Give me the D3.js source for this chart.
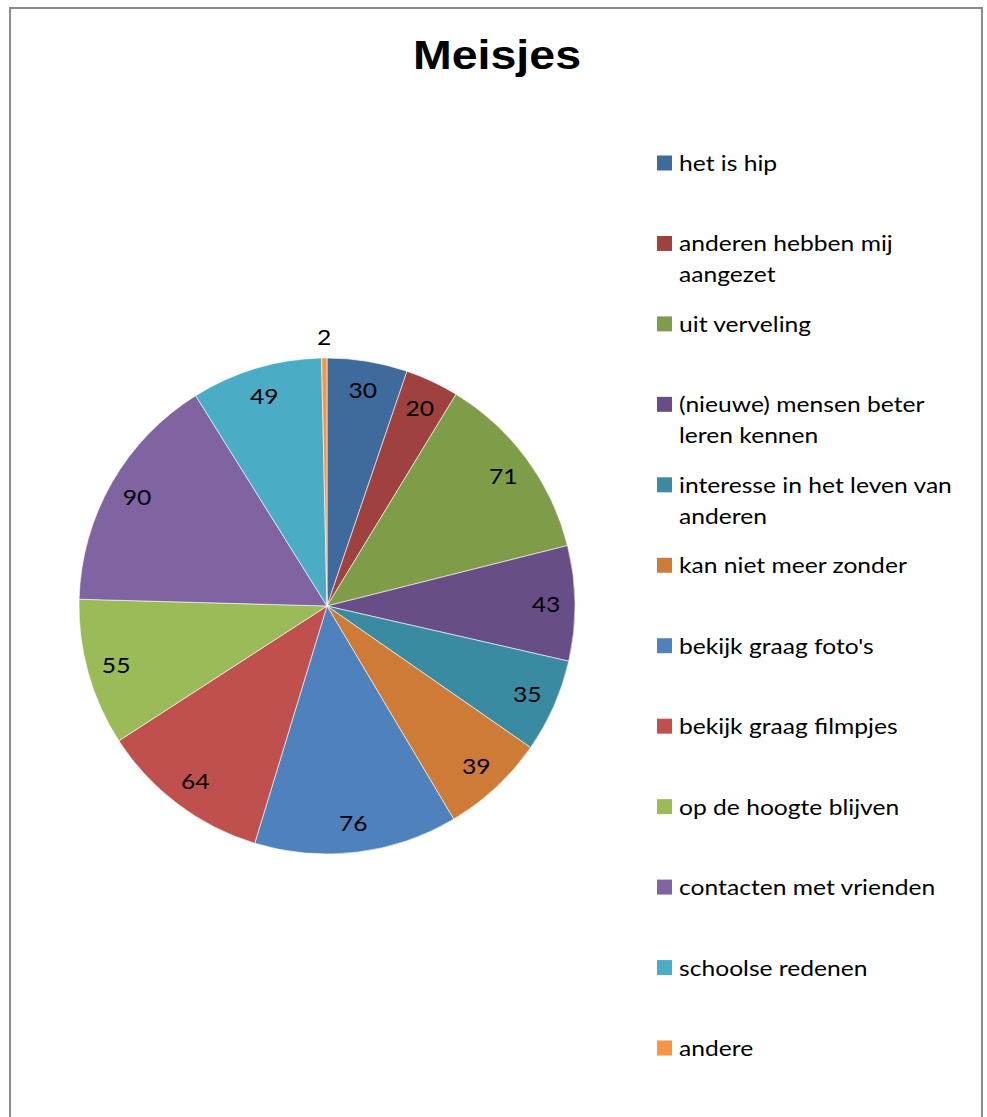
<!DOCTYPE html>
<html>
<head>
<meta charset="utf-8">
<script src="https://cdn.jsdelivr.net/npm/d3@7"></script>
<style>
  body { margin: 0; background: #fff; }
  svg text { font-family: Lato, "Noto Sans", sans-serif; }
</style>
</head>
<body>
<div id="chart"></div>
<script>
// redenen (meisjes)
var categories = ["het is hip", "anderen hebben mij aangezet", "uit verveling",
  "(nieuwe) mensen beter leren kennen", "interesse in het leven van anderen",
  "kan niet meer zonder", "bekijk graag foto's", "bekijk graag filmpjes",
  "op de hoogte blijven", "contacten met vrienden", "schoolse redenen", "andere"];
var values = [30, 20, 71, 43, 35, 39, 76, 64, 55, 90, 49, 2];
var colors = ["#3F6A9C", "#9F413E", "#7F9D48", "#684E87", "#3A8BA2", "#CD7B37",
  "#4F81BD", "#C0504D", "#9BBB59", "#8064A2", "#4BACC6", "#F79646"];
var title = "Meisjes";

var W = 987, H = 1117;
var svg = d3.select("#chart").append("svg").attr("width", W).attr("height", H);

// kader
svg.append("rect")
  .attr("x", 10).attr("y", 8).attr("width", 972).attr("height", H + 20)
  .attr("fill", "#fff").attr("stroke", "#8c8c8c").attr("stroke-width", 2);

// titel
var t = svg.append("text")
  .attr("x", 497).attr("y", 69)
  .attr("text-anchor", "middle")
  .style("font-family", "'Liberation Sans', Arial, sans-serif")
  .style("font-weight", "bold")
  .style("font-size", "40px")
  .text(title);
t.attr("textLength", 168).attr("lengthAdjust", "spacingAndGlyphs");

// taart
var cx = 327, cy = 606, R = 248;
var data = categories.map(function (c, i) { return { cat: c, value: values[i], i: i }; });
var total = d3.sum(values);
var pie = d3.pie().value(function (d) { return d.value; }).sort(null);
var arc = d3.arc().innerRadius(0).outerRadius(R);
var arcs = pie(data);

var g = svg.append("g").attr("transform", "translate(" + cx + "," + cy + ")");
g.selectAll("path")
  .data(arcs)
  .enter().append("path")
  .attr("d", arc)
  .attr("fill", function (d) { return colors[d.data.i]; })
  .attr("stroke", "#fff")
  .attr("stroke-width", 0.6);

var sx = 1.12;

// labels: binnenkant, kleine stukjes buiten
g.selectAll("text.lbl")
  .data(arcs)
  .enter().append("text")
  .attr("class", "lbl")
  .attr("transform", function (d) {
    var small = d.data.value / total < 0.02;
    var r = small ? R + 21 : 219;
    var a = (d.startAngle + d.endAngle) / 2;
    return "translate(" + (Math.sin(a) * r) + "," + (-Math.cos(a) * r) + ") scale(" + sx + ",1)";
  })
  .attr("text-anchor", "middle")
  .attr("dy", "0.36em")
  .style("font-size", "22px")
  .style("fill", "#000")
  .text(function (d) { return d.data.value; });

// legenda
var legendY = d3.scaleLinear().domain([0, categories.length - 1]).range([163, 1048]);
var leg = svg.append("g");
var items = leg.selectAll("g.item")
  .data(data)
  .enter().append("g")
  .attr("class", "item")
  .attr("transform", function (d) { return "translate(657," + legendY(d.i) + ")"; });

items.append("rect")
  .attr("x", 0).attr("y", -7.5).attr("width", 15).attr("height", 15)
  .attr("fill", function (d) { return colors[d.i]; });

items.each(function (d) {
  var el = d3.select(this);
  var txt = el.append("text")
    .attr("transform", "translate(22,8) scale(" + sx + ",1)")
    .style("font-size", "22px")
    .style("fill", "#000");
  var words = d.cat.split(" "), line = [], lineNo = 0;
  var ts = txt.append("tspan").attr("x", 0).attr("y", 0);
  words.forEach(function (w) {
    line.push(w);
    ts.text(line.join(" "));
    if (ts.node().getComputedTextLength() * sx > 285 && line.length > 1) {
      line.pop();
      ts.text(line.join(" "));
      line = [w];
      lineNo++;
      ts = txt.append("tspan").attr("x", 0).attr("y", lineNo * 31).text(w);
    }
  });
});
</script>
</body>
</html>
